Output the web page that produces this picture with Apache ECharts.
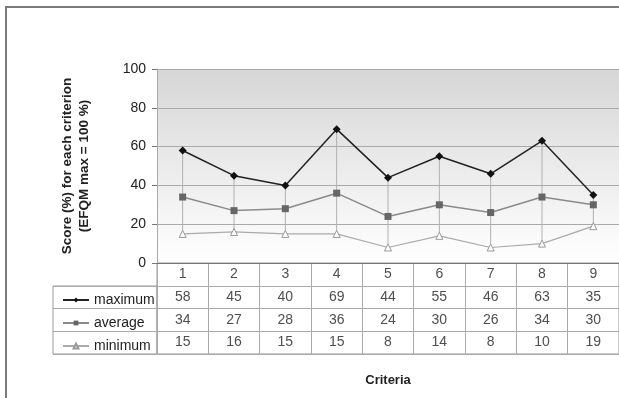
<!DOCTYPE html>
<html><head><meta charset="utf-8">
<script src="https://cdn.jsdelivr.net/npm/echarts@6/dist/echarts.min.js"></script>
<style>html,body{margin:0;padding:0;background:#fff}#c{width:619px;height:398px}</style>
</head><body><div id="c"></div>
<script>
const categories = ['1','2','3','4','5','6','7','8','9'];
const maximum = [58,45,40,69,44,55,46,63,35];
const average = [34,27,28,36,24,30,26,34,30];
const minimum = [15,16,15,15,8,14,8,10,19];
const yTicks = [0,20,40,60,80,100];
const rowNames = ['maximum','average','minimum'];

const FONT = 'Liberation Sans, Arial, sans-serif';
const chart = echarts.init(document.getElementById('c'));

const tableRows = ['h','maximum','average','minimum'];
const tableData = [];
categories.forEach((c,i)=>{
  tableData.push([i,'h',c]);
  tableData.push([i,'maximum',String(maximum[i])]);
  tableData.push([i,'average',String(average[i])]);
  tableData.push([i,'minimum',String(minimum[i])]);
});

chart.setOption({
  animation:false,
  backgroundColor:'#fff',
  textStyle:{fontFamily:FONT},
  graphic:[{type:'rect',shape:{x:6,y:7,width:700,height:500},style:{fill:'none',stroke:'#7a7a7a',lineWidth:2},silent:true}],
  legend:{
    orient:'vertical', left:57, top:288, itemWidth:26, itemHeight:6, itemGap:9,
    data:rowNames, textStyle:{fontFamily:FONT,fontSize:14,color:'#222'}
  },
  grid:[
    {left:157, top:69, width:470, height:194, show:true, borderWidth:0,
     backgroundColor:{type:'linear',x:0,y:0,x2:0,y2:1,colorStops:[{offset:0,color:'#d6d6d6'},{offset:0.7,color:'#f3f3f3'},{offset:1,color:'#ffffff'}]}},
    {left:157, top:263, width:470, height:91, show:true, borderColor:'#999', borderWidth:1, backgroundColor:'transparent'},
    {left:53, top:286, width:104, height:68, show:true, borderColor:'#999', borderWidth:1, backgroundColor:'transparent'}
  ],
  xAxis:[
    {type:'category', gridIndex:0, data:categories, boundaryGap:true,
     axisLine:{lineStyle:{color:'#777'}}, axisTick:{show:false}, axisLabel:{show:false}, splitLine:{show:false}},
    {type:'category', gridIndex:1, data:categories, boundaryGap:true,
     axisLine:{show:false}, axisTick:{show:false}, axisLabel:{show:false},
     splitLine:{show:true, interval:0, lineStyle:{color:'#aaa'}},
     name:'Criteria', nameLocation:'middle', nameGap:20,
     nameTextStyle:{fontFamily:FONT,fontSize:13,fontWeight:'bold',color:'#222'}},
    {type:'value', gridIndex:2, show:false}
  ],
  yAxis:[
    {type:'value', gridIndex:0, min:0, max:100, interval:20,
     axisLine:{show:true, lineStyle:{color:'#aaa'}},
     axisTick:{show:true, length:5, lineStyle:{color:'#777'}},
     axisLabel:{fontFamily:FONT, fontSize:14, color:'#222', margin:11},
     splitLine:{show:true, lineStyle:{color:'#aaa'}},
     name:'Score (%) for each criterion\n(EFQM max = 100 %)', nameLocation:'middle', nameGap:64, nameRotate:90,
     nameTextStyle:{fontFamily:FONT,fontSize:13.5,fontWeight:'bold',color:'#222',lineHeight:17}},
    {type:'category', gridIndex:1, data:tableRows, inverse:true,
     axisLine:{show:false}, axisTick:{show:false}, axisLabel:{show:false},
     splitLine:{show:true, interval:0, lineStyle:{color:'#aaa'}}},
    {type:'category', gridIndex:2, data:rowNames, inverse:true,
     axisLine:{show:false}, axisTick:{show:false}, axisLabel:{show:false},
     splitLine:{show:true, interval:0, lineStyle:{color:'#aaa'}}}
  ],
  series:[
    {type:'custom', xAxisIndex:0, yAxisIndex:0, z:1, silent:true,
     data:categories.map((c,i)=>[i, maximum[i], minimum[i]]),
     renderItem:(params, api)=>{
       const p1 = api.coord([api.value(0), api.value(1)]);
       const p2 = api.coord([api.value(0), api.value(2)]);
       return {type:'line', shape:{x1:p1[0],y1:p1[1],x2:p2[0],y2:p2[1]}, style:{stroke:'#b0b0b0',lineWidth:1}};
     }},
    {name:'maximum', type:'line', xAxisIndex:0, yAxisIndex:0, data:maximum, z:4,
     symbol:'diamond', symbolSize:8, lineStyle:{color:'#222',width:1.5}, itemStyle:{color:'#111'}},
    {name:'average', type:'line', xAxisIndex:0, yAxisIndex:0, data:average, z:3,
     symbol:'rect', symbolSize:7, lineStyle:{color:'#8a8a8a',width:1.5}, itemStyle:{color:'#666'}},
    {name:'minimum', type:'line', xAxisIndex:0, yAxisIndex:0, data:minimum, z:2,
     symbol:'triangle', symbolSize:7, lineStyle:{color:'#aaa',width:1.2},
     itemStyle:{color:'#fff', borderColor:'#999', borderWidth:1}},
    {type:'scatter', xAxisIndex:1, yAxisIndex:1, data:tableData, symbolSize:1, silent:true,
     itemStyle:{color:'rgba(0,0,0,0)'},
     label:{show:true, position:'inside', formatter:p=>p.value[2], fontFamily:FONT, fontSize:14, color:'#222'}}
  ]
});
</script></body></html>
